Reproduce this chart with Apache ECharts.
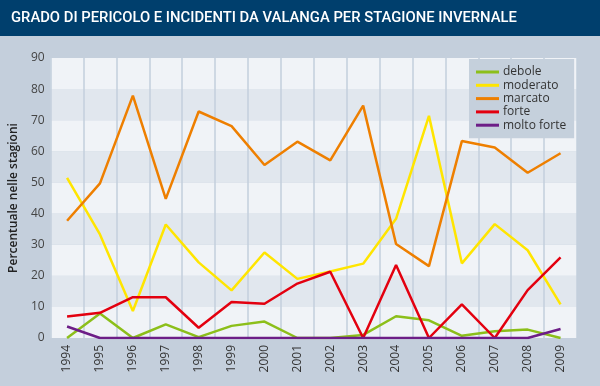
<!DOCTYPE html>
<html><head><meta charset="utf-8">
<script src="https://cdn.jsdelivr.net/npm/echarts@6/dist/echarts.min.js"></script>
<style>html,body{margin:0;padding:0;background:#c4cfdc}#c{width:600px;height:386px}</style>
</head><body><div id="c"></div>
<script>
const years = ['1994','1995','1996','1997','1998','1999','2000','2001','2002','2003','2004','2005','2006','2007','2008','2009'];
const debole = [0,7.9,0,4.4,0.3,3.9,5.3,0,0,1.0,7.0,5.7,0.7,2.2,2.7,0];
const moderato = [51.5,33.3,8.7,36.5,24.3,15.3,27.5,19.0,21.4,23.9,38.3,71.4,24.0,36.6,28.2,10.8];
const marcato = [37.7,49.7,77.9,44.7,72.8,68.1,55.6,63.1,57.1,74.7,30.2,23.1,63.3,61.2,53.1,59.4];
const forte = [6.9,8.1,13.1,13.1,3.3,11.6,11.0,17.5,21.3,0,23.5,0,10.8,0,15.4,25.9];
const moltoForte = [3.7,0,0,0,0,0,0,0,0,0,0,0,0,0,0,2.9];
const seriesNames = ['debole','moderato','marcato','forte','molto forte'];
const seriesColors = ['#8cbf1a','#ffe500','#ee7f00','#e3000f','#6d1e87'];
const seriesData = [debole, moderato, marcato, forte, moltoForte];

const chart = echarts.init(document.getElementById('c'));
const font = 'Open Sans';
chart.setOption({
  backgroundColor: '#c4cfdc',
  animation: false,
  graphic: [
    {type:'rect', shape:{x:0,y:0,width:600,height:36}, style:{fill:'#003f6d'}, z:0}
  ],
  title: {
    text: 'GRADO DI PERICOLO E INCIDENTI DA VALANGA PER STAGIONE INVERNALE',
    left: 11, top: 11, padding: 0,
    textStyle: {color:'#ffffff', fontFamily: 'Roboto', fontWeight: 500, fontSize: 14.8, lineHeight: 15}
  },
  grid: {left: 47, right: 23, top: 58, bottom: 48},
  legend: {
    orient: 'vertical', left: 469, top: 59,
    padding: [7, 8, 7, 7], itemGap: 1.3,
    backgroundColor: '#c5d0dc',
    icon: 'rect', itemWidth: 23, itemHeight: 3,
    data: seriesNames,
    textStyle: {color:'#333', fontFamily: font, fontSize: 12, lineHeight: 12, padding:[0,0,0,-1]}
  },
  xAxis: {
    type: 'category', data: years, boundaryGap: true,
    axisLine: {show: false}, axisTick: {show: false},
    axisLabel: {rotate: 90, color:'#333', fontFamily: font, fontSize: 12, margin: 7, interval: 0},
    splitLine: {show: true, interval: 0, lineStyle: {color:'#c3cfdc', width: 1.5}}
  },
  yAxis: {
    type: 'value', min: 0, max: 90, interval: 10,
    name: 'Percentuale nelle stagioni', nameLocation: 'middle', nameRotate: 90, nameGap: 25,
    nameTextStyle: {color:'#222', fontFamily: font, fontWeight: 600, fontSize: 12},
    axisLine: {show: false}, axisTick: {show: false},
    axisLabel: {color:'#444', fontFamily: font, fontSize: 12, margin: 6},
    splitLine: {show: false},
    splitArea: {show: true, areaStyle: {color: ['#f0f3f7','#e1e7ee']}}
  },
  series: seriesNames.map((n, i) => ({
    name: n, type: 'line', data: seriesData[i], symbol: 'none',
    lineStyle: {color: seriesColors[i], width: 2.5}, itemStyle: {color: seriesColors[i]}, z: 2 + i
  }))
});
</script></body></html>
